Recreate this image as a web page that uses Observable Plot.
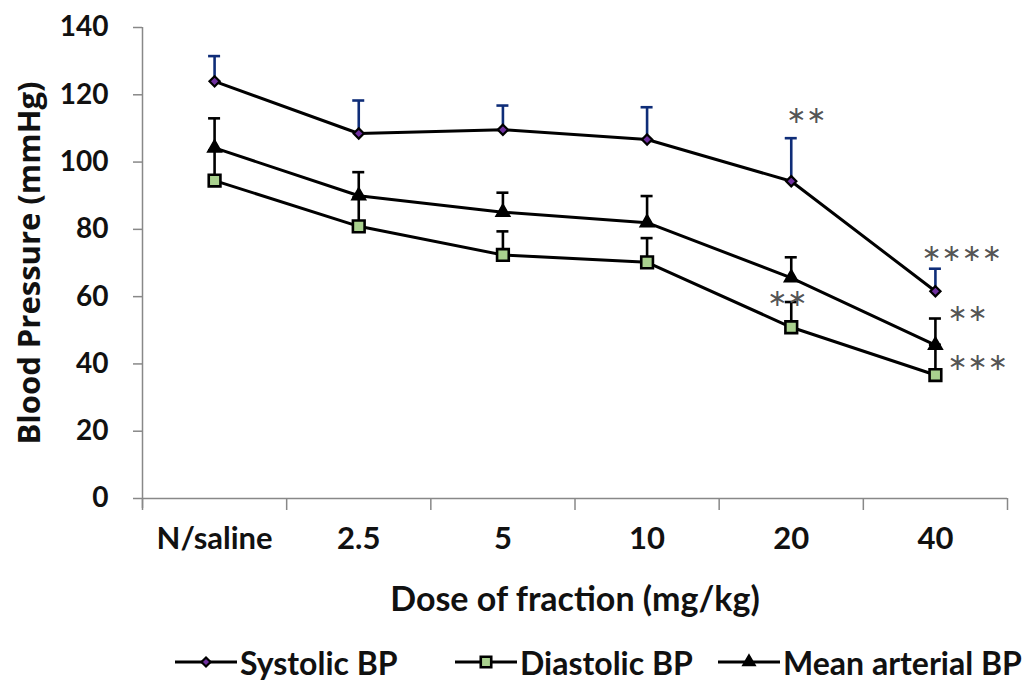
<!DOCTYPE html>
<html><head><meta charset="utf-8">
<script src="https://cdn.jsdelivr.net/npm/d3@7"></script>
<script src="https://cdn.jsdelivr.net/npm/@observablehq/plot@0.6"></script>
<style>
body{margin:0;background:#fff;}
#chart svg{display:block;}
#legend{position:relative;height:59px;width:1028px;font-family:Lato,sans-serif;font-weight:700;font-size:32px;color:#111;}
.item{position:absolute;top:20px;display:flex;align-items:center;height:34px;}
.item svg{display:block;margin-right:3px;}
</style></head><body>
<div id="chart"></div>
<div id="legend"></div>
<script>
// ---- data ----
const doses = ["N/saline", "2.5", "5", "10", "20", "40"];
const systolic   = [124.0, 108.5, 109.6, 106.7, 94.3, 61.6];
const systolicSE = [7.5, 9.8, 7.2, 9.6, 12.8, 6.7];
const diastolic   = [94.5, 80.9, 72.4, 70.2, 50.9, 36.7];
const diastolicSE = [9.0, 8.6, 7.0, 7.2, 7.5, 9.0];
const meanBP   = [104.2, 90.0, 85.1, 82.0, 65.6, 45.6];
const meanSE   = [8.8, 7.0, 5.8, 7.9, 6.1, 7.9];
const yTicks = [0, 20, 40, 60, 80, 100, 120, 140];
const seriesNames = ["Systolic BP", "Diastolic BP", "Mean arterial BP"];
const annotations = [
  {dose: "20", series: "Systolic BP", label: "∗∗"},
  {dose: "40", series: "Systolic BP", label: "∗∗∗∗"},
  {dose: "20", series: "Diastolic BP", label: "∗∗"},
  {dose: "40", series: "Mean arterial BP", label: "∗∗"},
  {dose: "40", series: "Diastolic BP", label: "∗∗∗"}
];
const xTitle = "Dose of fraction (mg/kg)";
const yTitle = "Blood Pressure (mmHg)";

// ---- styles ----
const styles = {
  "Systolic BP": {symbol: "diamond2", r: 4.6, fill: "#7030a0", stroke: "#000", sw: 2.2, err: "#0f2d78"},
  "Diastolic BP": {symbol: "square", r: 6.6, fill: "#a9d18e", stroke: "#000", sw: 2.6, err: "#000"},
  "Mean arterial BP": {symbol: "triangle", r: 5.2, fill: "#000", stroke: "#000", sw: 1.5, err: "#000"}
};
const annOffsets = [
  {dx: -5, dy: -23, anchor: "start"},
  {dx: -14, dy: -15, anchor: "start"},
  {dx: -24, dy: -4, anchor: "start"},
  {dx: 12, dy: -5, anchor: "start"},
  {dx: 12, dy: 18, anchor: "start"}
];

const vals = {"Systolic BP": systolic, "Diastolic BP": diastolic, "Mean arterial BP": meanBP};
const ses = {"Systolic BP": systolicSE, "Diastolic BP": diastolicSE, "Mean arterial BP": meanSE};
const rows = [];
for (const s of seriesNames) doses.forEach((d, i) => rows.push({series: s, dose: d, xi: i + 0.5, v: vals[s][i], top: vals[s][i] + ses[s][i]}));
const bySeries = s => rows.filter(r => r.series === s);

const marks = [];
// axes
marks.push(Plot.axisY({ticks: yTicks, tickSize: 9, tickPadding: 25, stroke: "#888", strokeWidth: 1.5,
  fontSize: 28, fontWeight: 700, fontFamily: "Lato", fill: "#111", label: null, tickFormat: d => d}));
marks.push(Plot.axisX({ticks: d3.range(doses.length + 1), tickSize: 12, stroke: "#888", strokeWidth: 1.5, tickFormat: () => "", label: null}));
marks.push(Plot.axisX({ticks: doses.map((d, i) => i + 0.5), tickSize: 0, tickPadding: 28, tickFormat: x => doses[Math.round(x - 0.5)],
  fontSize: 31, fontWeight: 700, fontFamily: "Lato", fill: "#111", label: null}));
marks.push(Plot.ruleX([0], {stroke: "#888", strokeWidth: 1.5, insetBottom: -10}));
marks.push(Plot.ruleY([0], {stroke: "#888", strokeWidth: 1.5}));
// error bars
for (const s of seriesNames) {
  const st = styles[s];
  marks.push(Plot.ruleX(bySeries(s), {x: "xi", y1: "v", y2: "top", stroke: st.err, strokeWidth: 2.6}));
  marks.push(Plot.ruleY(bySeries(s), {y: "top", x1: "xi", x2: "xi", insetLeft: -6, insetRight: -6, stroke: st.err, strokeWidth: 2.6}));
}
// lines
for (const s of seriesNames) marks.push(Plot.line(bySeries(s), {x: "xi", y: "v", stroke: "#000", strokeWidth: 3}));
// markers
for (const s of seriesNames) {
  const st = styles[s];
  marks.push(Plot.dot(bySeries(s), {x: "xi", y: "v", symbol: () => st.symbol, r: st.r, fill: st.fill, stroke: st.stroke, strokeWidth: st.sw}));
}
// annotations
annotations.forEach((a, k) => {
  const row = rows.find(r => r.series === a.series && r.dose === a.dose);
  const o = annOffsets[k];
  marks.push(Plot.text([row], {x: "xi", y: "top", text: () => a.label, dx: o.dx, dy: o.dy, textAnchor: o.anchor,
    fontSize: 24, fontFamily: "DejaVu Sans", fill: "#555", lineAnchor: "middle"}));
});
// titles
marks.push(Plot.text([xTitle], {frameAnchor: "bottom", dy: 102, lineAnchor: "middle", fontSize: 34, fontWeight: 700, fontFamily: "Lato", fill: "#111"}));
marks.push(Plot.text([yTitle], {frameAnchor: "left", dx: -112, rotate: -90, textAnchor: "middle", lineAnchor: "middle", fontSize: 31, fontWeight: 700, fontFamily: "Open Sans", fill: "#111"}));

const chart = Plot.plot({
  width: 1028, height: 625,
  marginLeft: 142, marginRight: 21, marginTop: 27, marginBottom: 127,
  x: {type: "linear", domain: [0, doses.length], axis: null},
  y: {domain: [0, 140], axis: null},
  style: {background: "#fff", overflow: "visible"},
  symbol: {type: "identity"},
  marks
});
document.getElementById("chart").appendChild(chart);

// legend
const legendLefts = [175, 455, 718];
const legend = document.getElementById("legend");
seriesNames.forEach((s, i) => {
  const st = styles[s];
  const div = document.createElement("div");
  div.className = "item";
  div.style.left = legendLefts[i] + "px";
  const svg = d3.create("svg").attr("width", 62).attr("height", 30);
  svg.append("line").attr("x1", 0).attr("x2", 62).attr("y1", 15).attr("y2", 15).attr("stroke", "#000").attr("stroke-width", 3);
  const symMap = {diamond2: d3.symbolDiamond2, square: d3.symbolSquare, triangle: d3.symbolTriangle};
  const sz = Math.PI * st.r * st.r * 0.8;
  svg.append("path").attr("transform", "translate(31,15)").attr("d", d3.symbol(symMap[st.symbol], sz)())
    .attr("fill", st.fill).attr("stroke", st.stroke).attr("stroke-width", st.sw);
  div.appendChild(svg.node());
  const t = document.createElement("span");
  t.textContent = s;
  div.appendChild(t);
  legend.appendChild(div);
});
</script>
</body></html>
